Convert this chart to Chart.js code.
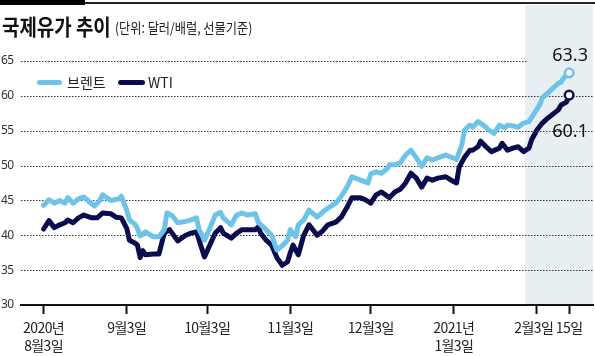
<!DOCTYPE html>
<html>
<head>
<meta charset="utf-8">
<script src="https://cdn.jsdelivr.net/npm/chart.js@4"></script>
<style>
  html, body { margin: 0; padding: 0; background: #fff; }
  #wrap { position: relative; width: 595px; height: 356px; overflow: hidden; font-family: "Noto Sans CJK KR", "Noto Sans", sans-serif; }
  canvas { position: absolute; left: 0; top: 0; }
  .abs { position: absolute; white-space: nowrap; }
  #topline { left: 0; top: 2px; width: 595px; height: 2px; background: #222; }
  #topbar { left: 0; top: 0; width: 85px; height: 5px; background: #000; }
  #title { left: 2px; top: 14px; font-size: 22px; line-height: 22px; font-weight: 700; color: #111; transform: scaleX(0.86); transform-origin: left top; }
  #sub { left: 115px; top: 20px; font-size: 14px; line-height: 14px; color: #222; transform: scaleX(0.87); transform-origin: left top; }
  .lg-line { height: 5px; border-radius: 3px; top: 79.5px; }
  .lg-text { top: 74px; font-size: 14px; line-height: 16px; color: #222; }
</style>
</head>
<body>
<div id="wrap">
  <canvas id="c" width="595" height="356"></canvas>
  <div class="abs" id="topline"></div>
  <div class="abs" id="topbar"></div>
  <div class="abs" id="title">국제유가 추이</div>
  <div class="abs" id="sub">(단위: 달러/배럴, 선물기준)</div>
  <div class="abs lg-line" style="left:37px;width:25px;background:#6ec3e8;"></div>
  <div class="abs lg-text" style="left:67px;">브렌트</div>
  <div class="abs lg-line" style="left:118px;width:27px;background:#0b0c4e;"></div>
  <div class="abs lg-text" style="left:148px;">WTI</div>
</div>
<script>
// days counted from 2020-08-03
const xTickDays = [0, 31, 61, 92, 122, 153, 184, 196];
const xTickLabels = [['2020년', '8월3일'], '9월3일', '10월3일', '11월3일', '12월3일', ['2021년', '1월3일'], '2월3일\u2002', '15일'];
const yTicks = [30, 35, 40, 45, 50, 55, 60, 65];
const shadeStartDay = 179.6;

const brentDays = [0,2,4,6,8,9,11,13,15,17,19,21,22,25,28,29,31,32,34,35,36,38,40,41,43,45,46,48,50,53,55,57,58,60,62,64,66,67,70,72,74,76,79,80,81,83,85,87,89,91,92,94,95,97,99,102,104,106,109,111,113,115,117,119,121,122,124,126,128,129,131,133,135,137,139,141,143,145,147,150,152,154,156,157,159,160,162,164,166,168,170,172,173,175,177,179,181,183,185,186,188,190,192,193,194,196];
const brentVals = [44.3,45.1,44.6,45.0,44.6,45.4,44.6,45.2,45.5,44.8,44.2,45.0,45.8,45.0,45.2,45.6,43.6,42.2,41.6,41.0,39.9,40.5,40.0,39.8,39.8,40.8,43.2,42.8,41.8,42.0,42.2,42.5,40.8,39.3,41.0,42.9,43.3,42.5,41.5,42.9,43.2,42.9,43.1,41.9,41.5,40.8,40.0,37.9,38.5,39.3,40.8,39.8,41.5,42.2,43.6,42.6,43.3,43.9,44.6,45.6,46.8,48.4,48.1,47.8,47.5,48.8,49.1,48.9,49.5,50.1,50.1,50.4,51.5,52.2,51.1,49.9,51.1,50.8,51.1,51.5,51.2,50.9,53.0,55.1,55.8,55.5,56.3,55.8,55.1,54.6,55.8,55.4,55.8,55.7,55.5,56.1,56.3,57.5,58.7,59.7,60.4,61.1,61.8,62.0,62.6,63.3];

const wtiDays = [0,2,4,6,8,9,11,13,15,18,20,22,25,27,29,31,32,34,35,36,37,38,41,43,45,47,50,53,55,57,58,60,62,64,66,67,70,72,74,77,79,80,81,83,85,87,89,91,92,93,95,97,99,102,104,106,109,111,113,115,118,120,122,124,126,129,131,133,135,137,139,141,143,145,147,150,152,154,155,157,159,160,162,163,165,167,170,171,173,175,177,179,181,182,184,186,188,191,192,193,195,196];
const wtiVals = [40.9,42.1,41.1,41.5,41.8,42.2,41.8,42.5,42.9,42.5,42.5,43.2,43.1,42.6,42.5,41.0,39.3,38.9,38.6,36.8,37.8,37.2,37.3,37.3,40.3,40.8,39.2,40.0,40.3,40.5,39.3,36.9,38.6,40.3,41.1,40.3,39.6,40.3,40.8,40.8,40.8,41.2,40.3,39.3,38.6,36.8,35.7,36.2,37.5,38.6,37.2,40.0,41.5,40.0,40.6,41.5,41.9,42.6,43.9,45.4,45.4,45.1,44.6,45.8,46.2,45.4,46.2,46.6,47.5,48.9,48.2,46.9,48.2,47.9,48.2,48.4,47.9,47.5,49.8,51.2,52.2,52.2,52.7,53.5,52.7,52.0,52.5,53.2,52.2,52.5,52.7,52.0,52.5,53.7,55.1,56.1,56.8,57.7,58.0,58.7,59.1,60.1];

const BRENT = '#6ec3e8';
const WTI = '#0b0c4e';

function toPts(days, vals) { return days.map((d, i) => ({ x: d, y: vals[i] })); }
function lastOnly(r) { return ctx => ctx.dataIndex === ctx.dataset.data.length - 1 ? r : 0; }

// shaded recent period + dotted horizontal grid at the y-scale's tick positions
const backgroundPlugin = {
  id: 'bgShadeGrid',
  beforeDraw(chart) {
    const { ctx, chartArea, scales } = chart;
    ctx.letterSpacing = '-0.6px';
    const x0 = scales.x.getPixelForValue(shadeStartDay);
    ctx.save();
    ctx.fillStyle = '#e8eff2';
    ctx.fillRect(x0, 5, chartArea.right - x0, chartArea.bottom - 5);
    const y = scales.y;
    ctx.fillStyle = '#333';
    for (const t of y.ticks) {
      if (t.value === y.min) continue;
      const py = Math.round(y.getPixelForValue(t.value));
      const xEnd = t.value === y.max ? x0 : chartArea.right;
      for (let x = Math.round(chartArea.left); x < xEnd; x += 3) {
        ctx.fillRect(x, py, 1.5, 1);
      }
    }
    ctx.restore();
  }
};

const endLabelPlugin = {
  id: 'endLabels',
  afterDatasetsDraw(chart) {
    const { ctx } = chart;
    ctx.save();
    ctx.letterSpacing = '0px';
    ctx.font = '18px "Noto Sans", sans-serif';
    ctx.fillStyle = '#111';
    ctx.textAlign = 'center';
    ctx.textBaseline = 'middle';
    chart.data.datasets.forEach((ds, i) => {
      const meta = chart.getDatasetMeta(i);
      const p = meta.data[meta.data.length - 1];
      const v = ds.data[ds.data.length - 1].y;
      const dy = i === 0 ? -17 : 37;
      ctx.fillText(v.toFixed(1), p.x + 1, p.y + dy);
    });
    ctx.restore();
  }
};

const chart = new Chart(document.getElementById('c'), {
  type: 'line',
  data: {
    datasets: [
      { label: '브렌트', data: toPts(brentDays, brentVals), borderColor: BRENT, borderWidth: 5,
        pointRadius: lastOnly(4.3), pointHoverRadius: 0, pointBackgroundColor: '#fff', pointBorderColor: BRENT, pointBorderWidth: 2.5,
        tension: 0, fill: false, borderJoinStyle: 'round', borderCapStyle: 'round' },
      { label: 'WTI', data: toPts(wtiDays, wtiVals), borderColor: WTI, borderWidth: 5,
        pointRadius: lastOnly(4.3), pointHoverRadius: 0, pointBackgroundColor: '#fff', pointBorderColor: WTI, pointBorderWidth: 2.5,
        tension: 0, fill: false, borderJoinStyle: 'round', borderCapStyle: 'round' }
    ]
  },
  options: {
    responsive: false,
    animation: false,
    devicePixelRatio: 1,
    layout: { autoPadding: false, padding: { left: 1, right: 2, top: 61, bottom: 0 } },
    plugins: { legend: { display: false }, tooltip: { enabled: false } },
    scales: {
      x: {
        type: 'linear',
        min: -8.43,
        max: 204.9,
        afterBuildTicks: s => { s.ticks = xTickDays.map(v => ({ value: v })); },
        afterFit: s => { s.height = 51; s.paddingLeft = 0; s.paddingRight = 0; },
        ticks: {
          autoSkip: false, maxRotation: 0, padding: 5,
          color: '#222',
          font: { family: '"Noto Sans CJK KR", sans-serif', size: 14, lineHeight: 1.28 },
          callback: (v, i) => xTickLabels[i]
        },
        grid: { drawOnChartArea: false, drawTicks: true, tickLength: 9, tickWidth: 2, tickColor: '#111' },
        border: { display: true, color: '#111', width: 2, z: 1 }
      },
      y: {
        min: 30,
        max: 65,
        afterBuildTicks: s => { s.ticks = yTicks.map(v => ({ value: v })); },
        afterFit: s => { s.width = 20; },
        ticks: {
          crossAlign: 'far',
          color: '#333',
          font: { family: '"Noto Sans", sans-serif', size: 12 },
          callback: v => String(v)
        },
        grid: { display: false },
        border: { display: false }
      }
    }
  },
  plugins: [backgroundPlugin, endLabelPlugin]
});
</script>
</body>
</html>
